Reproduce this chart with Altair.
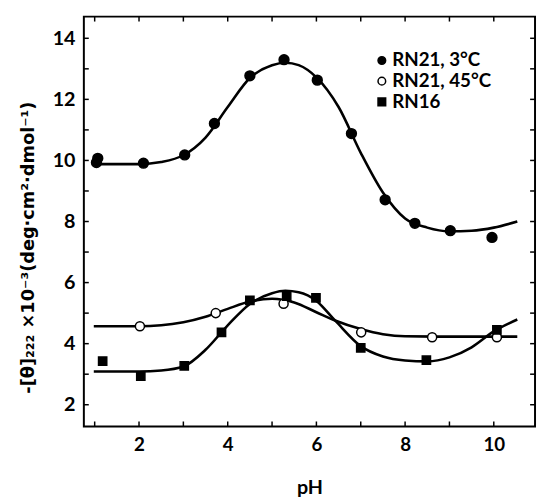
import altair as alt
import pandas as pd

series_names = ["RN21, 3°C", "RN21, 45°C", "RN16"]
size_keys = ["s1", "s2", "s3"]

# measured points
x_rn21_3 = [1.04, 1.07, 2.10, 3.03, 3.70, 4.50, 5.27, 6.02, 6.79, 7.55, 8.22, 9.02, 9.96]
y_rn21_3 = [9.93, 10.07, 9.91, 10.18, 11.21, 12.77, 13.30, 12.63, 10.88, 8.71, 7.94, 7.70, 7.48]

x_rn21_45 = [2.02, 3.73, 5.26, 7.01, 8.61, 10.07]
y_rn21_45 = [4.57, 5.00, 5.31, 4.37, 4.21, 4.21]

x_rn16 = [1.18, 2.04, 3.02, 3.86, 4.50, 5.33, 5.99, 7.00, 8.48, 10.07]
y_rn16 = [3.43, 2.94, 3.27, 4.37, 5.42, 5.56, 5.50, 3.86, 3.46, 4.45]

# fitted curves
cx_rn21_3 = [0.98, 2.0, 2.5, 3.0, 3.5, 4.0, 4.5, 5.0, 5.3, 5.6, 6.0, 6.5, 7.0, 7.5, 8.0, 8.5, 9.0, 9.5, 10.0, 10.53]
cy_rn21_3 = [9.88, 9.88, 9.95, 10.17, 10.75, 11.75, 12.7, 13.12, 13.2, 13.12, 12.72, 11.75, 10.25, 8.95, 8.1, 7.8, 7.68, 7.7, 7.8, 8.0]

cx_rn21_45 = [0.98, 2.0, 2.5, 3.0, 3.5, 4.0, 4.5, 5.0, 5.5, 6.0, 6.42, 7.0, 7.5, 8.0, 9.0, 10.0, 10.53]
cy_rn21_45 = [4.57, 4.57, 4.6, 4.7, 4.88, 5.14, 5.38, 5.47, 5.35, 5.03, 4.76, 4.48, 4.31, 4.24, 4.23, 4.23, 4.23]

cx_rn16 = [0.98, 2.0, 2.5, 3.0, 3.5, 4.0, 4.5, 5.0, 5.3, 5.6, 6.0, 6.42, 7.0, 7.5, 8.0, 8.5, 9.0, 9.5, 10.0, 10.53]
cy_rn16 = [3.09, 3.09, 3.12, 3.25, 3.8, 4.6, 5.3, 5.65, 5.73, 5.68, 5.4, 4.76, 3.92, 3.58, 3.45, 3.42, 3.55, 3.88, 4.4, 4.79]

x_ticks = [1, 2, 3, 4, 5, 6, 7, 8, 9, 10]
y_ticks = [2, 3, 4, 5, 6, 7, 8, 9, 10, 11, 12, 13, 14]
x_labels = [2, 4, 6, 8, 10]
y_labels = [2, 4, 6, 8, 10, 12, 14]

def frame(xs, ys, i):
    return pd.DataFrame({"pH": xs, "v": ys, "series": series_names[i], "sz": size_keys[i]})

pts = pd.concat([
    frame(x_rn21_3, y_rn21_3, 0),
    frame(x_rn21_45, y_rn21_45, 1),
    frame(x_rn16, y_rn16, 2),
])
curves = pd.concat([
    frame(cx_rn21_3, cy_rn21_3, 0),
    frame(cx_rn21_45, cy_rn21_45, 1),
    frame(cx_rn16, cy_rn16, 2),
])

W, H = 458, 416
FONT = "Lato"
xscale = alt.Scale(domain=[0.756, 10.93], nice=False, zero=False)
yscale = alt.Scale(domain=[1.29, 14.71], nice=False, zero=False)

ytitle = "-[θ]₂₂₂ ×10⁻³(deg·cm²·dmol⁻¹)"

xaxis = alt.Axis(
    values=x_labels, title="pH", grid=False, domain=False, ticks=False,
    labelFont=FONT, labelFontSize=19, labelFontWeight="bold", labelColor="black",
    labelPadding=9, titleFont=FONT, titleFontSize=20, titleFontWeight="bold",
    titleColor="black", titleY=68, titleBaseline="alphabetic")
yaxis = alt.Axis(
    values=y_labels, title=ytitle, grid=False, domain=False, ticks=False,
    labelFont=FONT, labelFontSize=20, labelFontWeight="bold", labelColor="black",
    labelPadding=9, titleFont="DejaVu Sans", titleFontSize=18, titleFontWeight="bold",
    titleColor="black", titleX=-51, titleY=234, titleAngle=270,
    titleAlign="center", titleBaseline="alphabetic")

X = alt.X("pH:Q", scale=xscale, axis=xaxis)
Y = alt.Y("v:Q", scale=yscale, axis=yaxis)

lines = alt.Chart(curves).mark_line(
    interpolate="monotone", color="black", strokeWidth=2.6
).encode(x=X, y=Y, detail="series:N")

leg = alt.Legend(title=None, orient="none", legendX=293, legendY=35,
                 symbolStrokeColor="black", symbolStrokeWidth=1.5)

points = alt.Chart(pts).mark_point(
    strokeWidth=1.5, opacity=1, fillOpacity=1
).encode(
    x=X, y=Y,
    shape=alt.Shape("series:N", scale=alt.Scale(domain=series_names, range=["circle", "circle", "square"]), legend=leg),
    fill=alt.Fill("series:N", scale=alt.Scale(domain=series_names, range=["black", "white", "black"]), legend=leg),
    stroke=alt.Stroke("series:N", scale=alt.Scale(domain=series_names, range=["black", "black", "black"]), legend=leg),
    size=alt.Size("sz:N", scale=alt.Scale(domain=size_keys, range=[100, 70, 135]), legend=None),
)

xt = pd.DataFrame({"pH": x_ticks})
yt = pd.DataFrame({"v": y_ticks})
tick_bottom = alt.Chart(xt).mark_rule(color="black", strokeWidth=1.5).encode(
    x=X, y=alt.value(H), y2=alt.value(H - 5))
tick_top = alt.Chart(xt).mark_rule(color="black", strokeWidth=1.5).encode(
    x=X, y=alt.value(0), y2=alt.value(5))
tick_left = alt.Chart(yt).mark_rule(color="black", strokeWidth=1.5).encode(
    y=Y, x=alt.value(0), x2=alt.value(5))
tick_right = alt.Chart(yt).mark_rule(color="black", strokeWidth=1.5).encode(
    y=Y, x=alt.value(W), x2=alt.value(W - 5))

chart = alt.layer(lines, points, tick_bottom, tick_top, tick_left, tick_right).properties(
    width=W, height=H,
    autosize=alt.AutoSizeParams(type="none"),
    padding={"left": 77, "top": 5, "right": 2, "bottom": 74},
    background="white",
).configure_view(stroke="black", strokeWidth=2).configure_legend(
    labelFont=FONT, labelFontSize=19, labelFontWeight="bold", labelColor="black",
    symbolSize=60, labelOffset=1, rowPadding=1, padding=0,
)

chart.save("out.html", embed_options={"renderer": "svg", "actions": False})
